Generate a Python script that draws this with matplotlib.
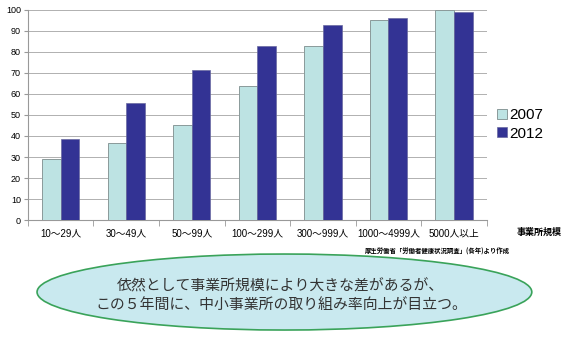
import numpy as np
import matplotlib.pyplot as plt
from matplotlib.patches import Ellipse

plt.rcParams['font.family'] = ['Liberation Sans', 'Noto Sans CJK JP', 'DejaVu Sans']

# データ
categories = ['10〜29人', '30〜49人', '50〜99人', '100〜299人', '300〜999人', '1000〜4999人', '5000人以上']
v2007 = [29, 36.5, 45, 63.8, 83, 95.3, 99.8]
v2012 = [38.7, 55.7, 71.2, 83, 92.7, 96.2, 98.8]
series_labels = ['2007', '2012']

c2007 = '#bde3e3'
c2012 = '#333394'

fig = plt.figure(figsize=(5.7, 3.51), dpi=100)
ax = fig.add_axes([0.049, 0.373, 0.805, 0.599])

x = np.arange(len(categories))
w = 0.285
ax.bar(x - w / 2, v2007, w, color=c2007, edgecolor='#8a9a9a', linewidth=0.7, label=series_labels[0], zorder=3)
ax.bar(x + w / 2, v2012, w, color=c2012, edgecolor='#6a6aa0', linewidth=0.5, label=series_labels[1], zorder=3)

ax.set_xlim(-0.5, len(categories) - 0.5)
ax.set_ylim(0, 100)
ax.set_yticks(np.arange(0, 101, 10))
ax.yaxis.grid(True, color='#b0b0b0', linewidth=0.7, zorder=0)
ax.set_axisbelow(True)
for s in ['top', 'right']:
    ax.spines[s].set_visible(False)
for s in ['left', 'bottom']:
    ax.spines[s].set_color('#999999')
    ax.spines[s].set_linewidth(0.8)

ax.set_xticks(x)
ax.set_xticklabels(categories, fontsize=7)
ax.tick_params(axis='x', length=0, pad=6)
ax.set_xticks(np.arange(-0.5, len(categories)), minor=True)
ax.tick_params(axis='x', which='minor', length=4, color='#999999')
ax.tick_params(axis='y', labelsize=6.5, length=3, color='#999999', pad=2)

ax.legend(loc='center left', bbox_to_anchor=(1.022, 0.455), frameon=False, fontsize=11,
          handlelength=0.65, handleheight=0.65, handletextpad=0.15, labelspacing=0.3,
          borderpad=0, borderaxespad=0)

fig.text(0.945, 0.337, '事業所規模', fontsize=6.5, fontweight='bold', ha='center', va='center',
         family=['Noto Sans CJK JP'])
fig.text(0.768, 0.285, '厚生労働省「労働者健康状況調査」(各年)より作成', fontsize=4.6, fontweight='bold',
         ha='center', va='center', family=['Noto Sans CJK JP'])

ell = Ellipse((0.499, 0.168), 0.868, 0.2165, transform=fig.transFigure,
              facecolor='#c9e9ef', edgecolor='#3aa35a', linewidth=1.2)
fig.add_artist(ell)
fig.text(0.492, 0.183, '依然として事業所規模により大きな差があるが、', fontsize=10.7, ha='center', va='center',
         family=['Noto Sans CJK JP'], color='#333333')
fig.text(0.493, 0.131, 'この５年間に、中小事業所の取り組み率向上が目立つ。', fontsize=10.7, ha='center', va='center',
         family=['Noto Sans CJK JP'], color='#333333')

fig.savefig('out.png', dpi=100)
